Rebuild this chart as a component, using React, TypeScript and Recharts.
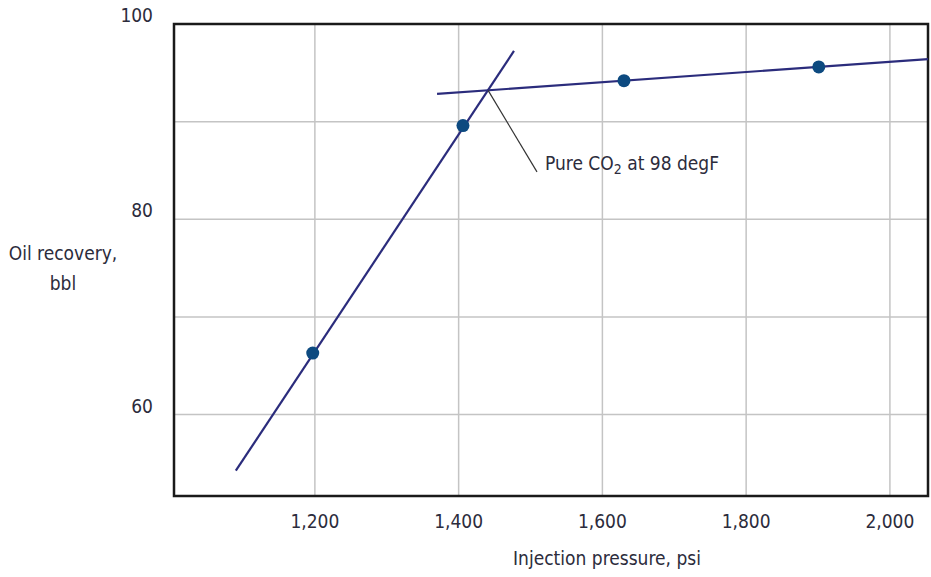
import React from "react";
import {
  ComposedChart,
  Line,
  Scatter,
  XAxis,
  YAxis,
  CartesianGrid,
  ReferenceArea,
  ReferenceDot,
} from "recharts";

// measured points
const points = [
  { x: 1197, y: 66.3 },
  { x: 1406, y: 89.6 },
  { x: 1630, y: 94.2 },
  { x: 1901, y: 95.6 },
];

// steep fitted line (below MMP)
const steepLine = [
  { x: 1090, y: 54.25 },
  { x: 1477, y: 97.24 },
];

// flat fitted line (above MMP)
const flatLine = [
  { x: 1370, y: 92.84 },
  { x: 2053, y: 96.4 },
];

// leader from intersection to label
const leader = [
  { x: 1441, y: 93.2 },
  { x: 1509, y: 84.85 },
];

const xTicks = [1200, 1400, 1600, 1800, 2000];
const yTicks = [60, 70, 80, 90, 100];
const yLabelled = [60, 80, 100];

const X_DOMAIN: [number, number] = [1004, 2053];
const Y_DOMAIN: [number, number] = [51.66, 100];

const FONT = "'Liberation Sans Narrow', 'DejaVu Sans Condensed', Roboto, sans-serif";
const TEXT = "#2c2c3c";
const LINE = "#2b2c7c";
const DOT = "#0d4a80";

function YTick({ x, y, payload }: any) {
  if (!yLabelled.includes(payload.value)) return null;
  return (
    <text x={x} y={y - 9} textAnchor="end" dominantBaseline="central" fill={TEXT} fontSize={19} fontFamily={FONT}>
      {payload.value}
    </text>
  );
}

function XTick({ x, y, payload }: any) {
  return (
    <text x={x} y={y} textAnchor="middle" dominantBaseline="central" fill={TEXT} fontSize={19} fontFamily={FONT}>
      {payload.value.toLocaleString("en-US")}
    </text>
  );
}

function AnnotationLabel({ viewBox }: any) {
  const { x, y } = viewBox;
  return (
    <text x={x + 8} y={y - 2} fill={TEXT} fontSize={19} fontFamily={FONT}>
      Pure CO
      <tspan fontSize={14} dy={4}>2</tspan>
      <tspan dy={-4}> at 98 degF</tspan>
    </text>
  );
}

export default function App() {
  return (
    <div style={{ position: "absolute", left: 0, top: 0, width: 931, height: 577, background: "#fff" }}>
      <ComposedChart width={931} height={577} margin={{ top: 24, right: 3, left: 0, bottom: 0 }}>
        <CartesianGrid stroke="#c4c4c4" strokeWidth={1.5} />
        <XAxis
          type="number"
          dataKey="x"
          domain={X_DOMAIN}
          ticks={xTicks}
          allowDataOverflow
          height={81}
          tickLine={false}
          axisLine={false}
          tickSize={0}
          tickMargin={25}
          tick={<XTick />}
          label={{
            value: "Injection pressure, psi",
            position: "insideBottom",
            offset: 12,
            dx: 56,
            fill: TEXT,
            fontSize: 19,
            fontFamily: FONT,
          }}
        />
        <YAxis
          type="number"
          dataKey="y"
          domain={Y_DOMAIN}
          ticks={yTicks}
          allowDataOverflow
          width={174}
          tickLine={false}
          axisLine={false}
          tickSize={0}
          tickMargin={21}
          tick={<YTick />}
          label={({ viewBox }: any) => (
            <text textAnchor="middle" fill={TEXT} fontSize={19} fontFamily={FONT}>
              <tspan x={viewBox.x + 63} y={260}>Oil recovery,</tspan>
              <tspan x={viewBox.x + 63} y={290}>bbl</tspan>
            </text>
          )}
        />
        <ReferenceArea
          x1={X_DOMAIN[0]}
          x2={X_DOMAIN[1]}
          y1={Y_DOMAIN[0]}
          y2={Y_DOMAIN[1]}
          fill="none"
          stroke="#1a1a1a"
          strokeWidth={2.5}
          ifOverflow="visible"
        />
        <Line data={steepLine} dataKey="y" stroke={LINE} strokeWidth={2.2} dot={false} isAnimationActive={false} />
        <Line data={flatLine} dataKey="y" stroke={LINE} strokeWidth={2.2} dot={false} isAnimationActive={false} />
        <Line data={leader} dataKey="y" stroke="#333" strokeWidth={1.2} dot={false} isAnimationActive={false} />
        <Scatter data={points} dataKey="y" fill={DOT} shape={(p: any) => <circle cx={p.cx} cy={p.cy} r={6.5} fill={DOT} />} isAnimationActive={false} />
        <ReferenceDot x={leader[1].x} y={leader[1].y} r={0} stroke="none" label={<AnnotationLabel />} />
      </ComposedChart>
    </div>
  );
}
